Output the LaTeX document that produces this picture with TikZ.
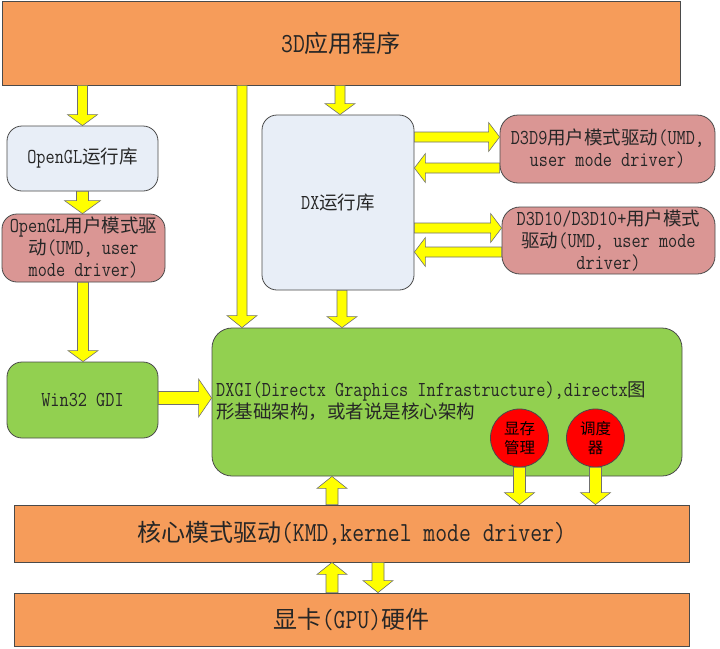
\documentclass[tikz,border=0pt]{standalone}
\usepackage{fontspec}
\setmainfont{Latin Modern Mono}[Scale=1.15,FakeStretch=0.835]
\newfontfamily\cjkf{Noto Sans CJK SC}
\newcommand\C[1]{{\cjkf #1}}
\usetikzlibrary{calc}
\definecolor{orgc}{HTML}{F69C5A}
\definecolor{bluec}{HTML}{E8EEF7}
\definecolor{pinkc}{HTML}{DA9694}
\definecolor{greenc}{HTML}{92D050}
\definecolor{redc}{HTML}{FF0000}
\definecolor{bordc}{HTML}{4A4A4A}
\definecolor{txtc}{HTML}{262626}
\definecolor{arrc}{HTML}{FFFF00}
\definecolor{arrb}{HTML}{707070}
\tikzset{
  box/.style={draw=bordc, line width=0.8pt, inner sep=0pt, text=txtc, align=center},
  big/.style={box, fill=orgc, font=\fontsize{24}{28}\selectfont},
  rbox/.style={box, rounded corners=15pt, font=\fontsize{18.5}{22}\selectfont},
  runtime/.style={rbox, fill=bluec},
  umd/.style={rbox, fill=pinkc, rounded corners=18pt},
  gbox/.style={rbox, fill=greenc},
  unit/.style={circle, draw=bordc, line width=0.8pt, fill=redc, inner sep=0pt,
     minimum size=58pt, align=center, text=black, font=\fontsize{15.5}{19}\selectfont},
  yarrow/.style={draw=arrb, line width=0.6pt, fill=arrc, line join=miter}
}
\newcommand\barr[5]{%
  \coordinate (bc) at ($(#2)!#5!(#1)$);
  \draw[yarrow] ($(#1)!#3!90:(#2)$) -- ($(bc)!#3!90:(#2)$) -- ($(bc)!#4!90:(#2)$) -- (#2)
    -- ($(bc)!#4!-90:(#2)$) -- ($(bc)!#3!-90:(#2)$) -- ($(#1)!#3!-90:(#2)$) -- cycle;}
\begin{document}
\begin{tikzpicture}[x=1pt,y=1pt]
\fill[white] (0,0) rectangle (720,-648);
\useasboundingbox (0,0) rectangle (720,-648);
% boxes
\node[big, minimum width=678pt, minimum height=84pt] (app) at (341,-43) {3D\C{应用程序}};
\node[runtime, minimum width=151pt, minimum height=65pt] (gl) at (82.5,-158.5) {OpenGL\C{运行库}};
\node[umd, rounded corners=15pt, minimum width=163pt, minimum height=68pt] (glumd) at (83.5,-248) {OpenGL\C{用户模式驱}\\\C{动}(UMD, user\\mode driver)};
\node[gbox, minimum width=151pt, minimum height=76pt] (gdi) at (82.5,-400) {Win32 GDI};
\node[runtime, minimum width=152pt, minimum height=175pt] (dx) at (338,-202.5) {DX\C{运行库}};
\node[umd, minimum width=215pt, minimum height=68pt] (d9) at (607.5,-149) {D3D9\C{用户模式驱动}(UMD,\\user mode driver)};
\node[umd, minimum width=213pt, minimum height=67pt] (d10) at (608.5,-240.5) {D3D10/D3D10+\C{用户模式}\\\C{驱动}(UMD, user mode\\driver)};
\node[gbox, rounded corners=20pt, minimum width=470pt, minimum height=148pt] (dxgi) at (447,-402) {};
\node[anchor=west, align=left, inner sep=0pt, text=txtc, font=\fontsize{18.5}{22}\selectfont] (dxgit) at (216,-401)
  {DXGI(Directx Graphics Infrastructure),directx\C{图}\\\C{形基础架构，或者说是核心架构}};
\node[unit] (m1) at (519.5,-438) {\C{显存}\\\C{管理}};
\node[unit] (m2) at (595.5,-438) {\C{调度}\\\C{器}};
\node[big, minimum width=675pt, minimum height=57pt] (kmd) at (351.5,-533.5) {\C{核心模式驱动}(KMD,kernel mode driver)};
\node[big, minimum width=675pt, minimum height=53pt] (gpu) at (351.5,-619.5) {\C{显卡}(GPU)\C{硬件}};
% arrow end points
\coordinate (a1s) at (app.south -| gl.north);
\coordinate (a2s) at (app.south -| 242,0);  \coordinate (a2e) at (dxgi.north -| 242,0);
\coordinate (a3s) at (app.south -| 340,0);  \coordinate (a3e) at (dx.north -| 340,0);
\coordinate (a4e) at (glumd.north -| gl.south);
\coordinate (a5s) at (glumd.south -| 83,0); \coordinate (a5e) at (gdi.north -| 83,0);
\coordinate (a6s) at (gdi.east |- 0,-398);  \coordinate (a6e) at (dxgi.west |- 0,-398);
\coordinate (a7s) at (dx.east |- 0,-137);   \coordinate (a7e) at (d9.west |- 0,-137);
\coordinate (a8s) at (d9.west |- 0,-168);   \coordinate (a8e) at (dx.east |- 0,-168);
\coordinate (a9s) at (dx.east |- 0,-228);   \coordinate (a9e) at (d10.west |- 0,-228);
\coordinate (a10s) at (d10.west |- 0,-252); \coordinate (a10e) at (dx.east |- 0,-252);
\coordinate (a11s) at (dx.south -| 342,0);  \coordinate (a11e) at (dxgi.north -| 342,0);
\coordinate (a12s) at (kmd.north -| 332,0); \coordinate (a12e) at (dxgi.south -| 332,0);
\coordinate (a13e) at (kmd.north -| m1.south);
\coordinate (a14e) at (kmd.north -| m2.south);
\coordinate (a15s) at (gpu.north -| 332,0); \coordinate (a15e) at (kmd.south -| 332,0);
\coordinate (a16s) at (kmd.south -| 378,0); \coordinate (a16e) at (gpu.north -| 378,0);
% arrows
\barr{a1s}{gl.north}{5pt}{15pt}{11pt}
\barr{a2s}{a2e}{5pt}{15pt}{12pt}
\barr{a3s}{a3e}{5pt}{15pt}{11pt}
\barr{gl.south}{a4e}{6pt}{18pt}{13pt}
\barr{a5s}{a5e}{5.5pt}{15pt}{11pt}
\barr{a6s}{a6e}{6.5pt}{19pt}{13pt}
\barr{a7s}{a7e}{5pt}{14.5pt}{11pt}
\barr{a8s}{a8e}{5pt}{14.5pt}{11pt}
\barr{a9s}{a9e}{5pt}{14.5pt}{11pt}
\barr{a10s}{a10e}{5pt}{14.5pt}{11pt}
\barr{a11s}{a11e}{5pt}{15pt}{11pt}
\barr{a12s}{a12e}{6pt}{15pt}{12pt}
\barr{m1.south}{a13e}{6pt}{15pt}{12pt}
\barr{m2.south}{a14e}{6pt}{15pt}{12pt}
\barr{a15s}{a15e}{6pt}{15pt}{12pt}
\barr{a16s}{a16e}{6pt}{15pt}{12pt}
\end{tikzpicture}
\end{document}
